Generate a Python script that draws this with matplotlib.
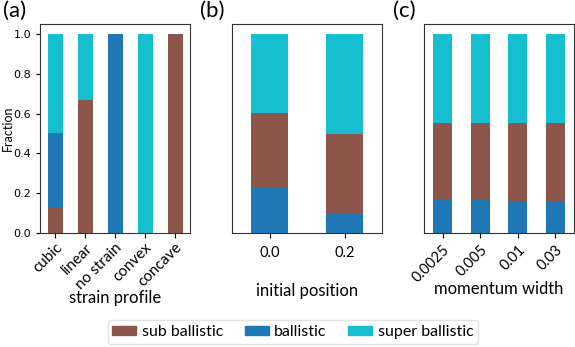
import numpy as np
import matplotlib
matplotlib.use('Agg')
import matplotlib.pyplot as plt
from matplotlib.patches import Patch

BROWN = '#8c564b'
BLUE = '#1f77b4'
CYAN = '#17becf'

# (a) strain profile
strain_labels = ['cubic', 'linear', 'no strain', 'convex', 'concave']
strain_sub = [0.125, 0.667, 0.0, 0.0, 1.0]
strain_ball = [0.375, 0.0, 1.0, 0.0, 0.0]
strain_super = [0.5, 0.333, 0.0, 1.0, 0.0]

# (b) initial position
pos_labels = ['0.0', '0.2']
pos_ball = [0.225, 0.1]
pos_sub = [0.378, 0.396]
pos_super = [0.397, 0.504]

# (c) momentum width
mom_labels = ['0.0025', '0.005', '0.01', '0.03']
mom_ball = [0.173, 0.173, 0.157, 0.157]
mom_sub = [0.38, 0.38, 0.396, 0.396]
mom_super = [0.447, 0.447, 0.447, 0.447]

FONT = 'Lato'
W, H = 575, 347

fig = plt.figure(figsize=(W / 100, H / 100), dpi=100)


def px_axes(x0, x1, y0, y1):
    return fig.add_axes([x0 / W, 1 - y1 / H, (x1 - x0) / W, (y1 - y0) / H])


def stack(ax, labels, layers):
    x = np.arange(len(labels))
    bottom = np.zeros(len(labels))
    for vals, col in layers:
        ax.bar(x, vals, 0.5, bottom=bottom, color=col)
        bottom += np.array(vals)
    ax.set_xlim(-0.5, len(labels) - 0.5)
    ax.set_ylim(0, 1.05)
    ax.set_xticks(x)
    for s in ax.spines.values():
        s.set_color('#333333')
        s.set_linewidth(0.8)


ax_a = px_axes(40, 190, 24, 233)
stack(ax_a, strain_labels, [(strain_sub, BROWN), (strain_ball, BLUE), (strain_super, CYAN)])
ax_a.set_xticklabels(strain_labels, rotation=45, ha='right', rotation_mode='anchor',
                     fontfamily=FONT, fontsize=11)
ax_a.tick_params(axis='x', pad=2)
ax_a.set_yticks([0, 0.2, 0.4, 0.6, 0.8, 1.0])
ax_a.tick_params(axis='y', labelsize=8, length=3)
ax_a.set_ylabel('Fraction', fontfamily=FONT, fontsize=9)
ax_a.yaxis.set_label_coords(-0.175, 0.5)
ax_a.set_xlabel('strain profile', fontfamily=FONT, fontsize=12)
ax_a.xaxis.set_label_coords(0.5, -0.275)

ax_b = px_axes(232, 382, 24, 233)
stack(ax_b, pos_labels, [(pos_ball, BLUE), (pos_sub, BROWN), (pos_super, CYAN)])
ax_b.set_xticklabels(pos_labels, fontfamily=FONT, fontsize=10.5)
ax_b.set_yticks([])
ax_b.tick_params(axis='x', pad=6)
ax_b.set_xlabel('initial position', fontfamily=FONT, fontsize=12)
ax_b.xaxis.set_label_coords(0.5, -0.237)

ax_c = px_axes(424, 574, 24, 233)
stack(ax_c, mom_labels, [(mom_ball, BLUE), (mom_sub, BROWN), (mom_super, CYAN)])
ax_c.set_xticklabels(mom_labels, rotation=45, ha='right', rotation_mode='anchor',
                     fontfamily=FONT, fontsize=10.5)
ax_c.set_yticks([])
ax_c.set_xlabel('momentum width', fontfamily=FONT, fontsize=12)
ax_c.xaxis.set_label_coords(0.5, -0.228)

for x, t in [(3, '(a)'), (200, '(b)'), (393, '(c)')]:
    fig.text(x / W, 1 - 1 / H, t, fontfamily=FONT, fontsize=16, va='top', ha='left')

handles = [Patch(color=BROWN, label='sub ballistic'),
           Patch(color=BLUE, label='ballistic'),
           Patch(color=CYAN, label='super ballistic')]
leg = fig.legend(handles=handles, loc='center', bbox_to_anchor=(293 / W, 1 - 332 / H),
                 ncol=3, prop={'family': FONT, 'size': 11.5}, frameon=True,
                 handlelength=1.5, handleheight=0.45, handletextpad=0.35,
                 columnspacing=1.35, borderpad=0.3, fancybox=True)
leg.get_frame().set_edgecolor('#dddddd')

fig.savefig('out.png', dpi=100)
